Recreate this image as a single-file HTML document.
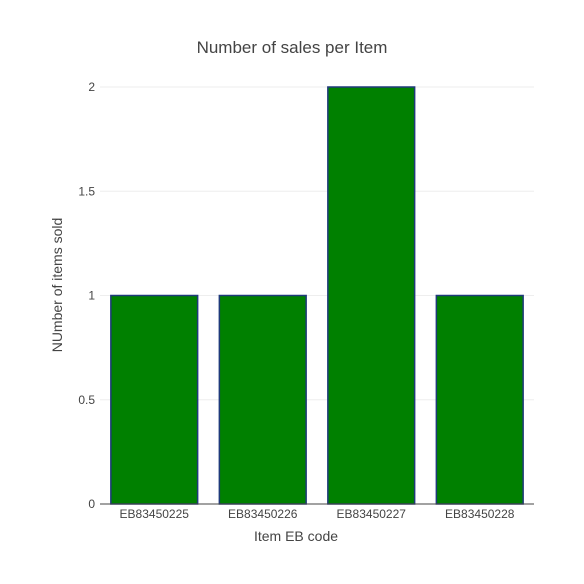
<!DOCTYPE html>
<html><head><meta charset="utf-8"><style>
body{margin:0;background:#fff;}
svg{display:block;font-family:"Liberation Sans",sans-serif;}
</style></head><body>
<svg id="chart" width="584" height="584">
<rect width="584" height="584" fill="#fff"/>
<text x="292" y="53" text-anchor="middle" font-size="17" fill="#444">Number of sales per Item</text>
<g id="grid"></g>
<g id="bars"></g>
<g id="axes"></g>
<text x="296" y="541" text-anchor="middle" font-size="14" fill="#444">Item EB code</text>
<text transform="translate(62,285) rotate(-90)" text-anchor="middle" font-size="14" fill="#444">NUmber of items sold</text>
</svg>
<script>
const categories = ["EB83450225","EB83450226","EB83450227","EB83450228"];
const values = [1,1,2,1];
const yTicks = [0,0.5,1,1.5,2];
const yTickLabels = ["0","0.5","1","1.5","2"];

const NS="http://www.w3.org/2000/svg";
const x0=100,x1=534,yTop=87,yBot=504,yMax=2;
const band=(x1-x0)/categories.length;
function xc(i){return x0+band*(i+0.5);}
function ys(v){return yBot-(v/yMax)*(yBot-yTop);}
function mk(t,a,p){const e=document.createElementNS(NS,t);for(const k in a)e.setAttribute(k,a[k]);p.appendChild(e);return e;}
const grid=document.getElementById('grid'),bars=document.getElementById('bars'),axes=document.getElementById('axes');
yTicks.forEach((v,i)=>{
  if(v!==0){
    const g=mk('line',{x1:x0,x2:x1,y1:ys(v),y2:ys(v),stroke:'#eee','stroke-width':1},grid);
    
    
  }
  const t=mk('text',{x:x0-5,y:ys(v)+4,'text-anchor':'end','font-size':12,fill:'#444'},axes);
  t.textContent=yTickLabels[i];
  
  
});
const bw=band*0.8;
values.forEach((v,i)=>{
  const r=mk('rect',{x:xc(i)-bw/2,y:ys(v),width:bw,height:ys(0)-ys(v),fill:'#008000',stroke:'#1f3a7a','stroke-width':1.5},bars);
  
  
  const t=mk('text',{x:xc(i),y:yBot+14,'text-anchor':'middle','font-size':12,fill:'#444'},axes);
  t.textContent=categories[i];
  
  
});
const ax=mk('line',{x1:x0,x2:x1,y1:yBot,y2:yBot,stroke:'#444','stroke-width':1},axes);


</script>
</body></html>
